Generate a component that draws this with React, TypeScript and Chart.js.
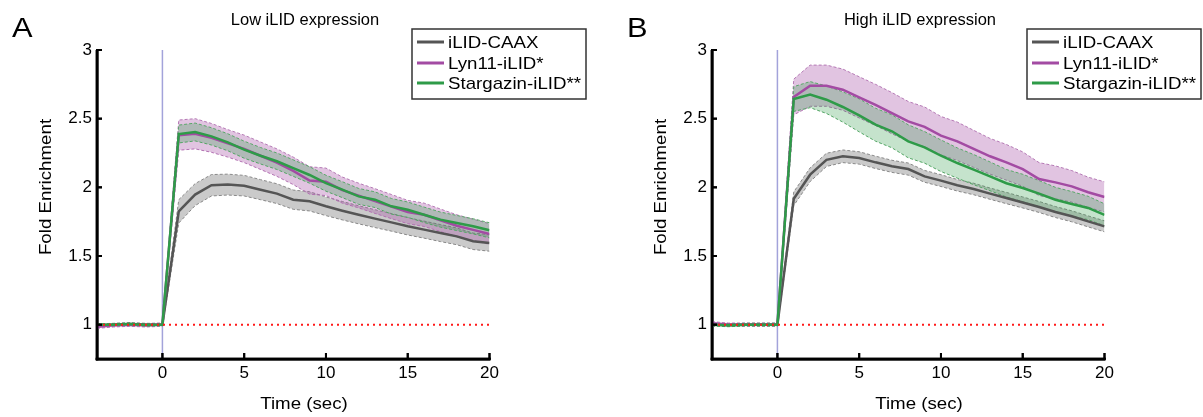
import React, { useEffect, useRef } from "react";
import { Chart, registerables } from "chart.js";

Chart.register(...registerables);

// ---------------- data ----------------
const time = [-4, -3, -2, -1, 0, 1, 2, 3, 4, 5, 6, 7, 8, 9, 10, 11, 12, 13, 14, 15, 16, 17, 18, 19, 20];
const xTicks = [0, 5, 10, 15, 20];
const yTicks = [1, 1.5, 2, 2.5, 3];
const xRange = [-4, 20];
const yRange = [0.75, 3];
const stimTime = 0;
const baselineLevel = 1;

const seriesNames = ["iLID-CAAX", "Lyn11-iLID*", "Stargazin-iLID**"];
const panelLetters = ["A", "B"];
const panelTitles = ["Low iLID expression", "High iLID expression"];
const xAxisLabel = "Time (sec)";
const yAxisLabel = "Fold Enrichment";

// Low iLID expression
const lowCaaxMean = [0.995, 1.0, 1.005, 1.0, 1.0, 1.825, 1.947, 2.015, 2.02, 2.012, 1.983, 1.954, 1.91, 1.898, 1.862, 1.83, 1.8, 1.772, 1.745, 1.716, 1.692, 1.667, 1.643, 1.607, 1.595];
const lowCaaxSem = [0.01, 0.01, 0.01, 0.01, 0.01, 0.085, 0.08, 0.078, 0.076, 0.075, 0.073, 0.072, 0.07, 0.07, 0.068, 0.067, 0.066, 0.065, 0.064, 0.063, 0.062, 0.062, 0.061, 0.06, 0.06];
const lowLynMean = [0.985, 0.995, 1.0, 0.995, 1.0, 2.38, 2.39, 2.36, 2.32, 2.28, 2.23, 2.18, 2.12, 2.05, 2.04, 1.98, 1.94, 1.9, 1.86, 1.82, 1.8, 1.76, 1.72, 1.69, 1.66];
const lowLynSem = [0.012, 0.012, 0.012, 0.012, 0.012, 0.11, 0.11, 0.105, 0.1, 0.1, 0.1, 0.1, 0.1, 0.1, 0.1, 0.095, 0.09, 0.09, 0.088, 0.085, 0.085, 0.082, 0.08, 0.078, 0.075];
const lowStarMean = [1.0, 1.0, 1.005, 0.998, 1.0, 2.388, 2.403, 2.371, 2.328, 2.274, 2.23, 2.19, 2.14, 2.09, 2.03, 1.983, 1.934, 1.91, 1.862, 1.837, 1.8, 1.765, 1.74, 1.716, 1.687];
const lowStarSem = [0.008, 0.008, 0.008, 0.008, 0.008, 0.065, 0.065, 0.063, 0.062, 0.062, 0.06, 0.06, 0.06, 0.06, 0.058, 0.058, 0.058, 0.057, 0.057, 0.056, 0.056, 0.055, 0.055, 0.055, 0.055];

// High iLID expression
const highCaaxMean = [1.0, 0.998, 1.0, 1.0, 1.0, 1.917, 2.092, 2.2, 2.226, 2.214, 2.182, 2.153, 2.133, 2.08, 2.049, 2.015, 1.988, 1.954, 1.922, 1.89, 1.857, 1.82, 1.789, 1.752, 1.716];
const highCaaxSem = [0.01, 0.01, 0.01, 0.01, 0.01, 0.05, 0.05, 0.048, 0.046, 0.045, 0.045, 0.044, 0.044, 0.043, 0.043, 0.042, 0.042, 0.041, 0.041, 0.04, 0.04, 0.04, 0.04, 0.04, 0.04];
const highLynMean = [1.01, 1.0, 1.0, 1.0, 1.0, 2.658, 2.74, 2.74, 2.711, 2.655, 2.6, 2.54, 2.48, 2.44, 2.376, 2.335, 2.28, 2.226, 2.182, 2.133, 2.06, 2.036, 2.007, 1.964, 1.93];
const highLynSem = [0.012, 0.012, 0.012, 0.012, 0.012, 0.13, 0.15, 0.15, 0.15, 0.15, 0.15, 0.15, 0.145, 0.145, 0.14, 0.14, 0.135, 0.13, 0.13, 0.125, 0.12, 0.12, 0.115, 0.11, 0.11];
const highStarMean = [1.0, 0.995, 1.0, 1.0, 1.0, 2.643, 2.675, 2.638, 2.585, 2.524, 2.456, 2.408, 2.335, 2.291, 2.23, 2.177, 2.129, 2.08, 2.03, 1.995, 1.954, 1.91, 1.879, 1.85, 1.8];
const highStarSem = [0.01, 0.01, 0.01, 0.01, 0.01, 0.09, 0.095, 0.1, 0.11, 0.12, 0.12, 0.12, 0.12, 0.115, 0.115, 0.11, 0.11, 0.105, 0.1, 0.1, 0.095, 0.09, 0.09, 0.085, 0.08];

// ---------------- styles ----------------
const FONT = '"Liberation Sans", Arial, Helvetica, sans-serif';
const lineColors = ["#555555", "#a34ba3", "#2e9b48"];
const bandColors = ["rgba(128,128,128,0.42)", "rgba(163,75,163,0.33)", "rgba(46,155,72,0.28)"];
const edgeColors = ["#8a8a8a", "#b57ab5", "#5aa86a"];

function stretchedText(
  ctx: CanvasRenderingContext2D,
  text: string,
  x: number,
  y: number,
  size: number,
  align: CanvasTextAlign,
  rotate = 0,
  stretch = 1.1
) {
  ctx.save();
  ctx.translate(x, y);
  if (rotate) ctx.rotate(rotate);
  ctx.scale(stretch, 1);
  ctx.font = `${size}px ${FONT}`;
  ctx.fillStyle = "#000";
  ctx.textAlign = align;
  ctx.textBaseline = "alphabetic";
  ctx.fillText(text, 0, 0);
  ctx.restore();
}

function pix(scale: any, v: number, fallback: number) {
  const p = scale.getPixelForValue(v);
  return Number.isFinite(p) ? p : fallback;
}

function drawFrame(c: any, ctx: CanvasRenderingContext2D) {
  const xs = c.scales.x;
  const ys = c.scales.y;
  const ca = c.chartArea;
  const x0 = pix(xs, xRange[0], ca.left);
  const x1 = pix(xs, xRange[1], ca.right);
  const y0 = pix(ys, yRange[0], ca.bottom);
  const y1 = pix(ys, yRange[1], ca.top);
  ctx.save();
  ctx.setTransform(1, 0, 0, 1, 0, 0);
  ctx.globalAlpha = 1;
  ctx.globalCompositeOperation = "source-over";
  ctx.fillStyle = "#000";
  ctx.fillRect(x0 - 1.25, y1, 2.5, y0 - y1 + 1.25);
  ctx.fillRect(x0 - 1.25, y0 - 1.25, x1 - x0 + 2.5, 2.5);
  xTicks.forEach((v) => {
    const px = pix(xs, v, x0);
    ctx.fillRect(px - 1, y0 - 6, 2, 6);
  });
  yTicks.forEach((v) => {
    const py = pix(ys, v, y0);
    ctx.fillRect(x0, py - 1, 5, 2);
  });
  ctx.restore();
}

function makeDecor(letter: string, title: string, overlay: { current: HTMLCanvasElement | null }) {
  return {
    id: "decor",
    afterDraw(c: any) {
      const ctx: CanvasRenderingContext2D = c.ctx;
      drawFrame(c, ctx);
      const ov = overlay.current;
      if (ov) {
        const octx = ov.getContext("2d");
        if (octx) {
          octx.clearRect(0, 0, ov.width, ov.height);
          drawFrame(c, octx);
        }
      }
      stretchedText(ctx, letter, 12, 37, 28, "left");
      stretchedText(ctx, title, 305, 25, 16, "center", 0, 1.03);
      stretchedText(ctx, xAxisLabel, 304, 409, 17, "center");
      stretchedText(ctx, yAxisLabel, 51, 187, 17, "center", -Math.PI / 2);

      ctx.save();
      const bx = 412, by = 29, bw = 174, bh = 70;
      ctx.fillStyle = "#fff";
      ctx.fillRect(bx, by, bw, bh);
      ctx.strokeStyle = "#333";
      ctx.lineWidth = 1.5;
      ctx.strokeRect(bx, by, bw, bh);
      const rows = [42, 63, 83];
      seriesNames.forEach((name, i) => {
        ctx.strokeStyle = lineColors[i];
        ctx.lineWidth = 3;
        ctx.beginPath();
        ctx.moveTo(417, rows[i]);
        ctx.lineTo(444, rows[i]);
        ctx.stroke();
        stretchedText(ctx, name, 448, rows[i] + 6, 17, "left");
      });
      ctx.restore();
    },
  };
}

function buildDatasets(means: number[][], sems: number[][]) {
  const datasets: any[] = [];
  const bandOrder = [60, 50, 40];
  const lineOrder = [30, 20, 10];
  means.forEach((m, s) => {
    const upperIdx = datasets.length;
    datasets.push({
      label: seriesNames[s] + " upper",
      data: time.map((t, i) => ({ x: t, y: m[i] + sems[s][i] })),
      borderColor: edgeColors[s],
      borderWidth: 1,
      borderDash: [3, 2],
      backgroundColor: bandColors[s],
      fill: upperIdx + 1,
      pointRadius: 0,
      order: bandOrder[s],
    });
    datasets.push({
      label: seriesNames[s] + " lower",
      data: time.map((t, i) => ({ x: t, y: m[i] - sems[s][i] })),
      borderColor: edgeColors[s],
      borderWidth: 1,
      borderDash: [3, 2],
      fill: false,
      pointRadius: 0,
      order: bandOrder[s],
    });
  });
  datasets.push({
    label: "stimulus",
    data: [
      { x: stimTime, y: yRange[0] },
      { x: stimTime, y: yRange[1] },
    ],
    borderColor: "#a3a3da",
    borderWidth: 1.5,
    pointRadius: 0,
    fill: false,
    order: 70,
  });
  means.forEach((m, s) => {
    datasets.push({
      label: seriesNames[s],
      data: time.map((t, i) => ({ x: t, y: m[i] })),
      borderColor: lineColors[s],
      borderWidth: 2.5,
      pointRadius: 0,
      fill: false,
      order: lineOrder[s],
    });
  });
  datasets.push({
    label: "baseline",
    data: [
      { x: xRange[0], y: baselineLevel },
      { x: xRange[1], y: baselineLevel },
    ],
    borderColor: "#ff1a1a",
    borderWidth: 2,
    borderDash: [2, 4],
    pointRadius: 0,
    fill: false,
    order: 0,
  });
  return datasets;
}

function makeChart(
  canvas: HTMLCanvasElement,
  overlay: { current: HTMLCanvasElement | null },
  width: number,
  letter: string,
  title: string,
  means: number[][],
  sems: number[][]
) {
  const scaleOpts = (ticks: number[], range: number[], pad: number, fit: (s: any) => void) => ({
    type: "linear",
    min: range[0],
    max: range[1],
    grid: { display: false, drawTicks: false },
    border: { display: true, color: "#000", width: 2.5 },
    ticks: { color: "#000", font: { family: FONT, size: 17 }, padding: pad, callback: (v: any) => String(v) },
    afterBuildTicks: (s: any) => {
      s.ticks = ticks.map((v) => ({ value: v }));
    },
    afterFit: fit,
  });
  return new Chart(canvas, {
    type: "line",
    data: { datasets: buildDatasets(means, sems) },
    options: {
      responsive: false,
      animation: false,
      events: [],
      devicePixelRatio: 1,
      layout: { padding: { left: 0, top: 50, right: width - 489.5, bottom: 0 } },
      plugins: { legend: { display: false }, tooltip: { enabled: false } },
      scales: {
        x: scaleOpts(xTicks, xRange, 4, (s: any) => { s.height = 58; }),
        y: scaleOpts(yTicks, yRange, 5, (s: any) => { s.width = 97; }),
      },
    } as any,
    plugins: [makeDecor(letter, title, overlay)],
  });
}

type PanelProps = { idx: number; width: number; left: number; means: number[][]; sems: number[][] };

function Panel({ idx, width, left, means, sems }: PanelProps) {
  const ref = useRef<HTMLCanvasElement | null>(null);
  const overlayRef = useRef<HTMLCanvasElement | null>(null);
  useEffect(() => {
    if (!ref.current) return;
    const chart = makeChart(ref.current, overlayRef, width, panelLetters[idx], panelTitles[idx], means, sems);
    return () => chart.destroy();
  }, [idx]);
  return (
    <>
      <canvas
        ref={ref}
        width={width}
        height={417}
        style={{ position: "absolute", left, top: 0, width, height: 417 }}
      />
      <canvas
        ref={overlayRef}
        width={width}
        height={417}
        style={{ position: "absolute", left, top: 0, width, height: 417, pointerEvents: "none" }}
      />
    </>
  );
}

const lowMeans = [lowCaaxMean, lowLynMean, lowStarMean];
const lowSems = [lowCaaxSem, lowLynSem, lowStarSem];
const highMeans = [highCaaxMean, highLynMean, highStarMean];
const highSems = [highCaaxSem, highLynSem, highStarSem];

export default function App() {
  return (
    <div style={{ position: "fixed", left: 0, top: 0, width: 1203, height: 417, background: "#fff" }}>
      <Panel idx={0} width={615} left={0} means={lowMeans} sems={lowSems} />
      <Panel idx={1} width={588} left={615} means={highMeans} sems={highSems} />
    </div>
  );
}
